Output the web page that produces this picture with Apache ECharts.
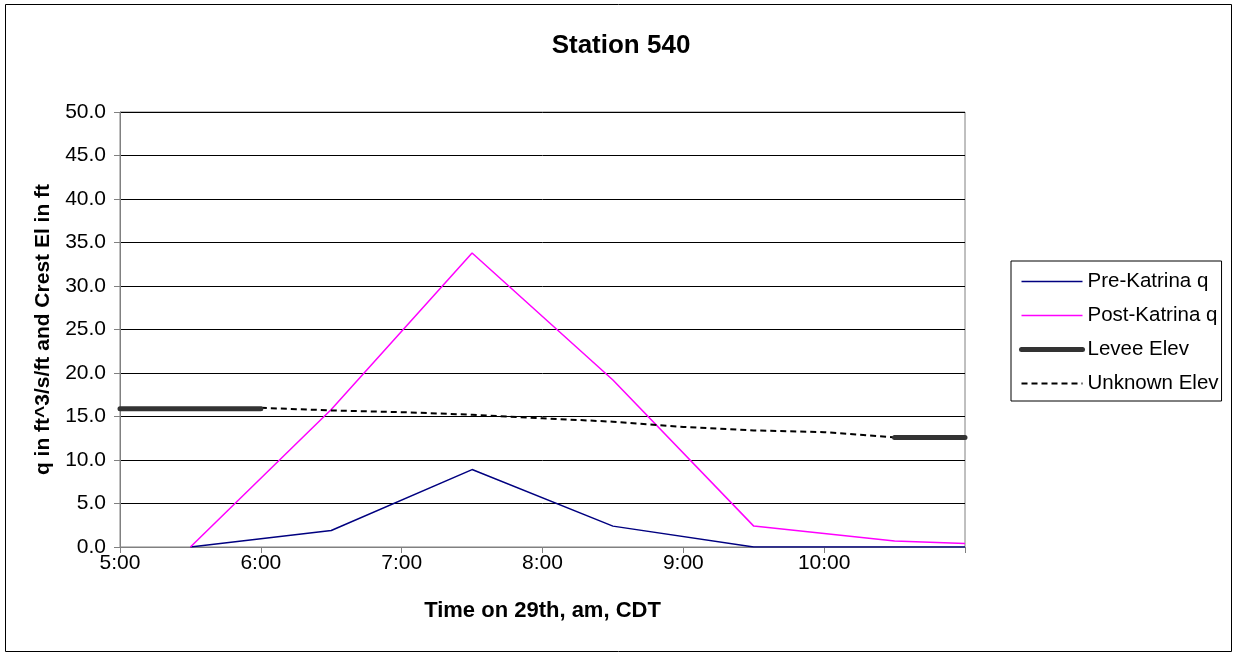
<!DOCTYPE html>
<html>
<head>
<meta charset="utf-8">
<script src="https://cdn.jsdelivr.net/npm/echarts@6/dist/echarts.min.js"></script>
<style>
html,body{margin:0;padding:0;background:#fff;}
#c{width:1233px;height:654px;}
</style>
</head>
<body>
<div id="c"></div>
<script>
// Data (x in hours, am on the 29th)
var timeTicks = [5, 6, 7, 8, 9, 10, 11];
var qTimes = [5.5, 6.5, 7.5, 8.5, 9.5, 10.5, 11];
var preKatrinaQ = [0, 1.9, 8.9, 2.4, 0, 0, 0];
var postKatrinaQ = [0, 15.8, 33.8, 19.2, 2.4, 0.7, 0.4];
var leveeTimes = [5, 6, 8, 10.5, 11];
var leveeElev = [15.9, 15.9, '-', 12.6, 12.6];
var unknownTimes = [6, 6.5, 7, 7.5, 8, 8.5, 9, 9.5, 10, 10.5];
var unknownElev = [16.0, 15.7, 15.5, 15.2, 14.8, 14.4, 13.8, 13.4, 13.2, 12.6];
var seriesNames = ['Pre-Katrina q', 'Post-Katrina q', 'Levee Elev', 'Unknown Elev'];

function pairs(xs, ys) { return xs.map(function (x, i) { return [x, ys[i]]; }); }

var FONT = 'Liberation Sans, Arial, sans-serif';
var chart = echarts.init(document.getElementById('c'), null, {renderer: 'canvas'});
chart.setOption({
  animation: false,
  backgroundColor: '#fff',
  textStyle: {fontFamily: FONT, color: '#000'},
  title: {
    text: 'Station 540', left: 616, top: 28, textAlign: 'center',
    textStyle: {fontFamily: FONT, fontSize: 26, fontWeight: 'bold', color: '#000'}
  },
  graphic: [{
    type: 'rect', shape: {x: 5.5, y: 4.5, width: 1226, height: 647},
    style: {fill: null, stroke: '#000', lineWidth: 1}, silent: true, z: -1
  }],
  grid: {left: 120, right: 268, top: 112, bottom: 107, show: true, borderColor: '#808080', borderWidth: 1},
  legend: {
    orient: 'vertical', left: 1011, top: 261,
    padding: [10, 3, 7, 8], itemGap: 13, itemWidth: 61, itemHeight: 21,
    borderColor: '#000', borderWidth: 1, backgroundColor: '#fff',
    itemStyle: {opacity: 0},
    textStyle: {fontFamily: FONT, fontSize: 20.5, color: '#000'},
    data: [
      {name: seriesNames[0], lineStyle: {width: 1.5}},
      {name: seriesNames[1], lineStyle: {width: 1.5}},
      {name: seriesNames[2], lineStyle: {width: 5, cap: 'round'}},
      {name: seriesNames[3], lineStyle: {width: 2}}
    ]
  },
  xAxis: {
    type: 'value', min: 5, max: 11, interval: 1,
    name: 'Time on 29th, am, CDT', nameLocation: 'middle', nameGap: 53,
    nameTextStyle: {fontFamily: FONT, fontSize: 22, fontWeight: 'bold', color: '#000'},
    axisLine: {show: true, lineStyle: {color: '#808080', width: 1}},
    axisTick: {show: true, inside: false, length: 6, lineStyle: {color: '#808080'}},
    axisLabel: {
      fontFamily: FONT, fontSize: 21, color: '#000', margin: 6,
      formatter: function (v) { return v === 11 ? '' : v + ':00'; }
    },
    splitLine: {show: false}
  },
  yAxis: {
    type: 'value', min: 0, max: 50, interval: 5,
    name: 'q in ft^3/s/ft and Crest El in ft', nameLocation: 'middle', nameGap: 66,
    nameTextStyle: {fontFamily: FONT, fontSize: 21, fontWeight: 'bold', color: '#000'},
    axisLine: {show: true, lineStyle: {color: '#808080', width: 1}},
    axisTick: {show: true, inside: false, length: 6, lineStyle: {color: '#808080'}},
    axisLabel: {
      fontFamily: FONT, fontSize: 21, color: '#000', margin: 14,
      formatter: function (v) { return v.toFixed(1); }
    },
    splitLine: {show: true, lineStyle: {color: '#000', width: 1}}
  },
  series: [
    {
      name: seriesNames[0], type: 'line', data: pairs(qTimes, preKatrinaQ),
      symbol: 'none', color: '#000080', lineStyle: {color: '#000080', width: 1.5}, z: 3
    },
    {
      name: seriesNames[1], type: 'line', data: pairs(qTimes, postKatrinaQ),
      symbol: 'none', color: '#FF00FF', lineStyle: {color: '#FF00FF', width: 1.5}, z: 3
    },
    {
      name: seriesNames[2], type: 'line', data: pairs(leveeTimes, leveeElev), connectNulls: false,
      symbol: 'none', color: '#333333', lineStyle: {color: '#333333', width: 5, cap: 'round'}, z: 4
    },
    {
      name: seriesNames[3], type: 'line', data: pairs(unknownTimes, unknownElev),
      symbol: 'none', color: '#000', lineStyle: {color: '#000', width: 2, type: [6, 4]}, z: 3
    }
  ]
});
</script>
</body>
</html>
